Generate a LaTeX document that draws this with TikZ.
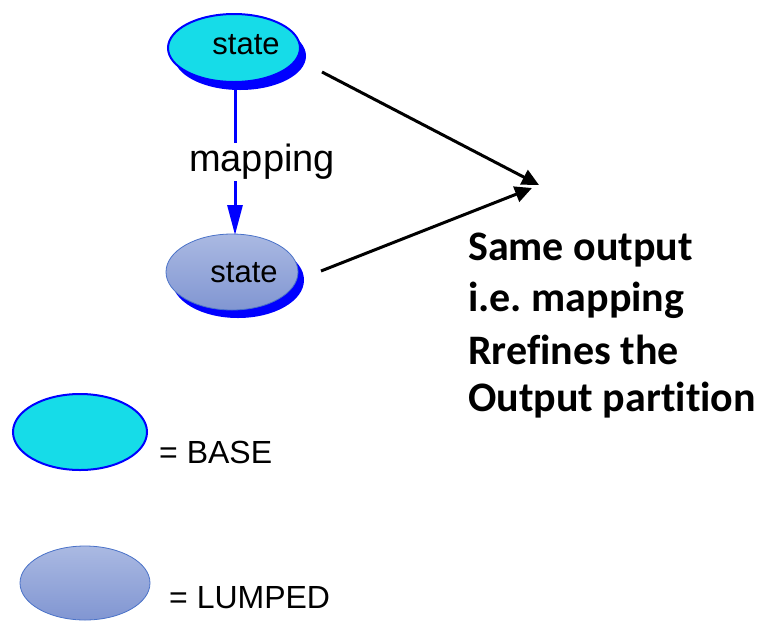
\documentclass[tikz,border=0pt]{standalone}
\usepackage{fontspec}
\setmainfont{Liberation Sans}
\newfontfamily\calibrifont[Ligatures=NoCommon]{Carlito}
\usetikzlibrary{arrows.meta,shapes.geometric,shadows}
\definecolor{basecyan}{HTML}{16DCE8}
\definecolor{lumptop}{HTML}{AAB9E2}
\definecolor{lumpbot}{HTML}{8196D2}
\definecolor{lumpedge}{HTML}{4A72C8}
\frenchspacing
\begin{document}
\begin{tikzpicture}[x=1pt,y=-1pt,
  basestate/.style={ellipse, draw=blue, line width=2pt, fill=basecyan,
    minimum width=132pt, minimum height=68pt, inner sep=0pt},
  lumpstate/.style={ellipse, draw=lumpedge, line width=0.8pt,
    top color=lumptop, bottom color=lumpbot,
    minimum width=132pt, minimum height=76pt, inner sep=0pt},
  blueshadow/.style={drop shadow={fill=blue, opacity=1, shadow xshift=6pt, shadow yshift=-8pt}},
  lbl/.style={font=\fontsize{31}{37}\selectfont, inner sep=0pt},
  legend/.style={font=\fontsize{32}{38}\selectfont, inner sep=0pt, anchor=west},
  outarrow/.style={draw=black, line width=3pt, -{Triangle[length=17pt,width=16pt]}},
  maparrow/.style={draw=blue, line width=3pt, -{Triangle[length=30pt,width=15pt]}},
  note/.style={font=\calibrifont\bfseries\fontsize{42}{50}\selectfont, anchor=west, inner sep=0pt}
]
\useasboundingbox (0,0) rectangle (760,622);

% the two states
\node[basestate, blueshadow] (top) at (234,48) {};
\node[lbl] (toptext) at (246,45) {state};
\node[lumpstate, blueshadow] (low) at (232,272) {};
\node[lbl] (lowtext) at (244,273) {state};

% mapping from the base state to the lumped state
\coordinate (mapstart) at (235,90);
\coordinate (mapend) at (235,235);
\draw[maparrow] (mapstart) -- (mapend);
\node[font=\fontsize{38}{45}\selectfont, fill=white, inner sep=1pt] (maplabel) at (262,162) {mapping};

% both states give the same output
\coordinate (s1) at (322,72);
\coordinate (t1) at (539,185);
\coordinate (s2) at (321,271);
\coordinate (t2) at (532,188);
\draw[outarrow] (s1) -- (t1);
\draw[outarrow] (s2) -- (t2);

\node[note] (n1) at (468,250) {Same output};
\node[note] (n2) at (468,300) {i.e. mapping};
\node[note] (n3) at (468,350) {Rrefines the};
\node[note] (n4) at (468,400) {Output partition};

% legend
\node[basestate, minimum width=134pt, minimum height=76pt] (legbase) at (80,432) {};
\node[legend] (basetext) at (159,452) {= BASE};
\node[lumpstate, minimum width=130pt, minimum height=74pt] (leglump) at (85,583) {};
\node[legend] (lumptext) at (169,598) {= LUMPED};
\end{tikzpicture}
\end{document}
